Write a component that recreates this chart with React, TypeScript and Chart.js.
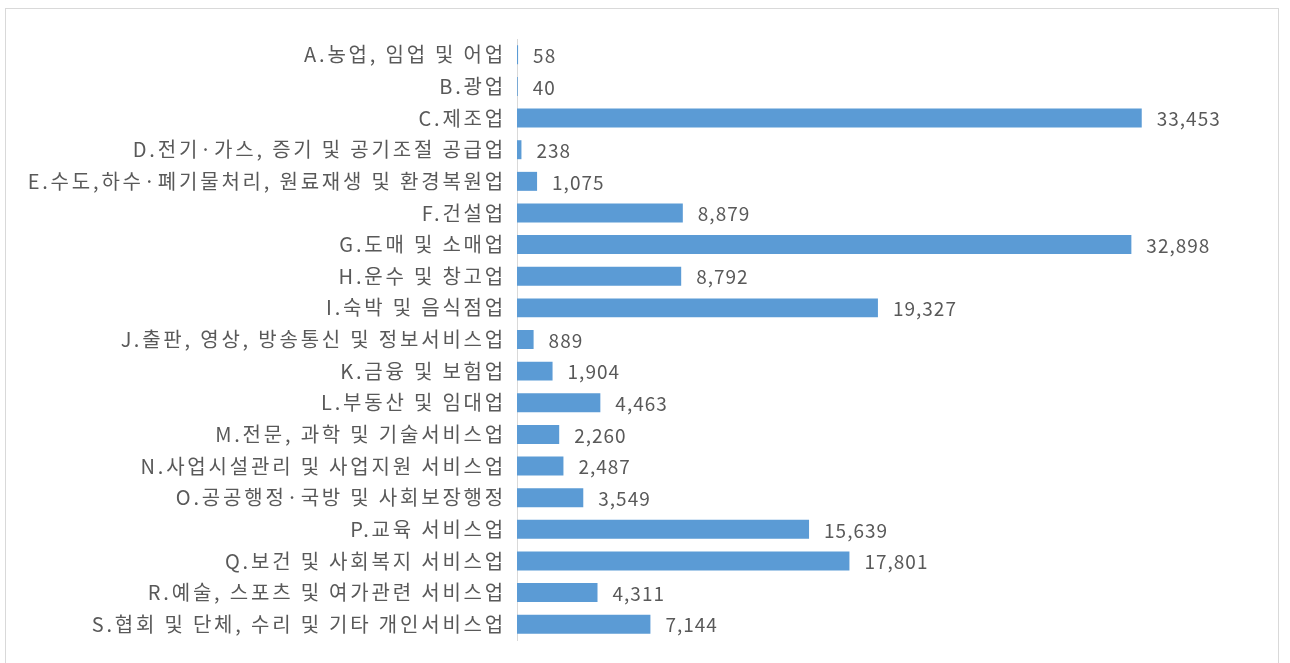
import React, { useEffect, useRef } from "react";
import { Chart, registerables } from "chart.js";

Chart.register(...registerables);

const categories: string[] = [
  "A.농업, 임업 및 어업",
  "B.광업",
  "C.제조업",
  "D.전기·가스, 증기 및 공기조절 공급업",
  "E.수도,하수·폐기물처리, 원료재생 및 환경복원업",
  "F.건설업",
  "G.도매 및 소매업",
  "H.운수 및 창고업",
  "I.숙박 및 음식점업",
  "J.출판, 영상, 방송통신 및 정보서비스업",
  "K.금융 및 보험업",
  "L.부동산 및 임대업",
  "M.전문, 과학 및 기술서비스업",
  "N.사업시설관리 및 사업지원 서비스업",
  "O.공공행정·국방 및 사회보장행정",
  "P.교육 서비스업",
  "Q.보건 및 사회복지 서비스업",
  "R.예술, 스포츠 및 여가관련 서비스업",
  "S.협회 및 단체, 수리 및 기타 개인서비스업",
];

const values: number[] = [
  58, 40, 33453, 238, 1075, 8879, 32898, 8792, 19327, 889, 1904, 4463, 2260,
  2487, 3549, 15639, 17801, 4311, 7144,
];

const FONT = '"Noto Sans CJK KR", "Noto Sans", sans-serif';
const TEXT_COLOR = "#595959";

const valueLabels = {
  id: "valueLabels",
  afterDatasetsDraw(chart: any) {
    const ctx = chart.ctx;
    const meta = chart.getDatasetMeta(0);
    ctx.save();
    ctx.font = `19px ${FONT}`;
    ctx.fillStyle = TEXT_COLOR;
    ctx.textAlign = "left";
    ctx.textBaseline = "middle";
    try {
      (ctx as any).letterSpacing = "1px";
    } catch (e) {}
    meta.data.forEach((bar: any, i: number) => {
      const v = values[i];
      ctx.fillText(v.toLocaleString("en-US"), bar.x + 15, bar.y + 1);
    });
    ctx.restore();
  },
};

const spacing = {
  id: "spacing",
  beforeDraw(chart: any) {
    try {
      (chart.ctx as any).letterSpacing = "2.8px";
    } catch (e) {}
  },
};

export default function App() {
  const ref = useRef<HTMLCanvasElement | null>(null);

  useEffect(() => {
    document.body.style.margin = "0";
    if (!ref.current) return;
    const chart = new Chart(ref.current, {
      type: "bar",
      data: {
        labels: categories,
        datasets: [
          {
            data: values,
            backgroundColor: "#5B9BD5",
            borderWidth: 0,
            barPercentage: 0.6,
            categoryPercentage: 1,
          },
        ],
      },
      options: {
        indexAxis: "y",
        animation: false,
        responsive: true,
        maintainAspectRatio: false,
        layout: { padding: { left: 0, right: 26, top: 39, bottom: 19 } },
        plugins: {
          legend: { display: false },
          tooltip: { enabled: false },
        },
        scales: {
          x: {
            display: false,
            min: 0,
            max: 40000,
          },
          y: {
            afterFit(scale: any) {
              scale.width = 517;
            },
            grid: { display: true, drawOnChartArea: false, drawTicks: false },
            border: { display: true, color: "#d9d9d9", width: 1 },
            ticks: {
              padding: 11,
              color: TEXT_COLOR,
              font: { family: FONT, size: 20 },
              autoSkip: false,
            },
          },
        },
      },
      plugins: [spacing, valueLabels],
    });
    return () => chart.destroy();
  }, []);

  return (
    <div style={{ position: "fixed", left: 0, top: 0, width: 1290, height: 663, background: "#fff" }}>
      <div
        style={{
          position: "absolute",
          left: 5,
          top: 8,
          width: 1274,
          height: 700,
          border: "1px solid #d9d9d9",
          boxSizing: "border-box",
        }}
      />
      <div style={{ position: "absolute", left: 0, top: 0, width: 1290, height: 663 }}>
        <canvas ref={ref} />
      </div>
    </div>
  );
}
